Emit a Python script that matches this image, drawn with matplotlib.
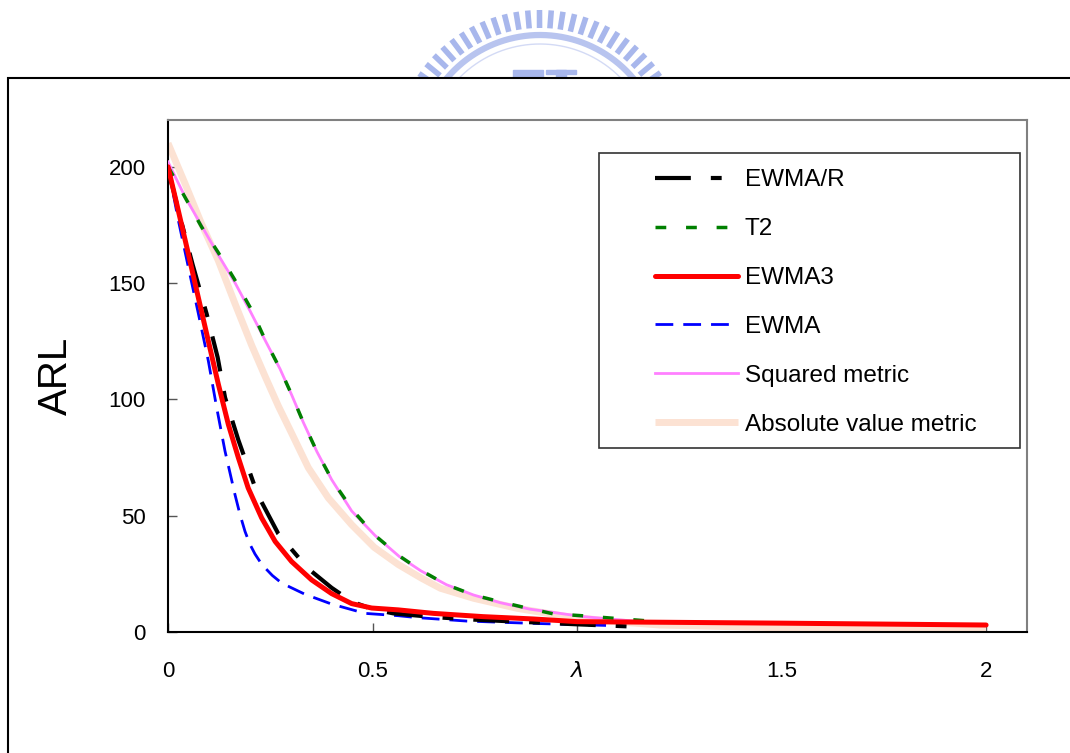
import matplotlib
matplotlib.use("Agg")
import matplotlib.pyplot as plt
from matplotlib.patches import Rectangle
import numpy as np

plt.rcParams['font.family'] = ['Liberation Sans', 'DejaVu Sans']

# ---- data (x = lambda, y = ARL) ----
x_ewma_r = [0, 0.03, 0.06, 0.0946, 0.1214, 0.1394, 0.172, 0.2193, 0.2697, 0.3415, 0.40, 0.45, 0.50, 0.551, 0.65, 0.75, 0.86, 1.0, 1.14]
y_ewma_r = [199, 178, 158, 136.6, 118, 100.8, 82.5, 59, 42.2, 27.4, 19, 13, 9.8, 8.0, 6.4, 5.3, 4.4, 3.3, 2.3]

x_t2 = [0, 0.0457, 0.0823, 0.123, 0.162, 0.203, 0.239, 0.274, 0.301, 0.331, 0.364, 0.402, 0.453, 0.506, 0.567,
        0.616, 0.681, 0.747, 0.812, 0.877, 0.942, 1.011, 1.089, 1.163, 1.2]
y_t2 = [200, 185.5, 174, 163, 151.7, 138.8, 125, 113, 102.5, 90, 77.5, 65, 52, 41.5, 32.5,
        26.7, 20.3, 15.9, 13, 10.3, 7.8, 7.0, 5.9, 4.9, 4.5]

x_ewma3 = [0, 0.0253, 0.0497, 0.074, 0.0986, 0.123, 0.1475, 0.172, 0.196, 0.229, 0.262, 0.302, 0.351, 0.40,
           0.449, 0.498, 0.563, 0.62, 0.649, 0.77, 0.893, 1.0, 1.2, 1.5, 2.0]
y_ewma3 = [199.9, 181, 162.5, 143.8, 125, 106.5, 89.2, 74.9, 61.9, 49, 38.9, 30.3, 22.4, 16.5,
           12.2, 10.3, 9.5, 8.5, 8.0, 6.6, 5.6, 4.45, 4.2, 3.8, 3.0]

x_ewma = [0, 0.0253, 0.0497, 0.074, 0.0986, 0.119, 0.1394, 0.1638, 0.176, 0.1883, 0.20, 0.2127, 0.225, 0.237,
          0.255, 0.278, 0.335, 0.40, 0.482, 0.563, 0.608, 0.73, 0.893, 1.097]
y_ewma = [200, 176.9, 156.8, 137, 116.5, 96.4, 77.7, 59, 50.5, 43.2, 37.8, 33.5, 30.2, 27.6,
          24.3, 21, 16.2, 12, 8.0, 7.0, 6.2, 4.7, 3.7, 2.7]

x_sq = [0, 0.0416, 0.0905, 0.123, 0.164, 0.2005, 0.237, 0.274, 0.302, 0.331, 0.364, 0.40, 0.449, 0.506, 0.565,
        0.618, 0.681, 0.747, 0.812, 0.885, 1.015, 1.138, 1.203]
y_sq = [202, 187, 172, 162, 150, 138, 125.5, 113, 102, 90, 77.5, 65.5, 52, 41.5, 32.5,
        26.3, 20.3, 15.9, 12.6, 9.8, 6.6, 4.7, 4.0]

x_abs = [0, 0.0416, 0.082, 0.123, 0.164, 0.205, 0.237, 0.27, 0.302, 0.343, 0.392, 0.449, 0.504, 0.563, 0.62,
         0.666, 0.747, 0.853, 0.975, 1.097, 1.203, 1.5, 2.0]
y_abs = [210, 192.7, 175.4, 159.6, 141, 123, 110, 97, 85.5, 70.6, 57.6, 46.1, 36.4, 29, 23.1,
         18.8, 14.5, 10.2, 6.6, 4.4, 3.0, 1.8, 1.1]

x_ticks = [0, 0.5, 1, 1.5, 2]
x_tick_labels = ['0', '0.5', r'$\lambda$', '1.5', '2']
y_ticks = [0, 50, 100, 150, 200]

fig = plt.figure(figsize=(10.7, 7.53), dpi=100)

# outer frame of the pasted chart
fig.patches.append(Rectangle((8/1070, -0.05), 1.2, 0.05 + 1 - 78/753, transform=fig.transFigure,
                             fill=False, edgecolor='black', linewidth=1.5))

# faint watermark logo peeking above the frame
deco = fig.add_axes([0, 1 - 77/753, 1, 77/753])
deco.set_xlim(0, 1070)
deco.set_ylim(77, 0)
deco.axis('off')
logo_col = '#a8b7ec'
for th in np.radians(np.arange(-60, 61, 4.6)):
    deco.plot([540 + 129*np.sin(th), 540 + 147*np.sin(th)],
              [157 - 129*np.cos(th), 157 - 147*np.cos(th)], color=logo_col, lw=4.0, solid_capstyle='butt')
arc = np.radians(np.linspace(-62, 62, 200))
deco.plot(540 + 122*np.sin(arc), 157 - 122*np.cos(arc), color='#b8c4ef', lw=4.5)
deco.plot(540 + 113*np.sin(arc), 157 - 113*np.cos(arc), color='#d3daf5', lw=1)
deco.add_patch(Rectangle((513, 70), 30, 8, color=logo_col))
deco.add_patch(Rectangle((546, 70), 30, 4, color=logo_col))
deco.add_patch(Rectangle((556, 70), 10, 8, color=logo_col))

ax = fig.add_axes([168/1070, 1 - 632/753, (1027-168)/1070, (632-120)/753])

ax.plot(x_abs, y_abs, color='#fce2d3', lw=5, solid_capstyle='butt', label='Absolute value metric', zorder=2)
ax.plot(x_sq, y_sq, color='#ff80ff', lw=2, label='Squared metric', zorder=3)
ax.plot(x_t2, y_t2, color='#008000', lw=2.5, dashes=(3.1, 5.7), label='T2', zorder=3)
ax.plot(x_ewma, y_ewma, color='#0000ff', lw=2, dashes=(6.4, 3.6), label='EWMA', zorder=4)
ax.plot(x_ewma_r, y_ewma_r, color='black', lw=3, dashes=(8.6, 4.8, 2.6, 4.8), label='EWMA/R', zorder=4)
ax.plot(x_ewma3, y_ewma3, color='red', lw=3.6, solid_capstyle='round', label='EWMA3', zorder=5)

ax.set_xlim(0, 2.1)
ax.set_ylim(0, 220)
ax.set_xticks(x_ticks)
ax.set_xticklabels(x_tick_labels)
ax.set_yticks(y_ticks)
ax.tick_params(direction='in', length=6.5, width=1, color='#555555', labelsize=16)
ax.tick_params(axis='x', pad=21)
ax.tick_params(axis='y', pad=16)

ax.spines['left'].set_color('black')
ax.spines['bottom'].set_color('black')
ax.spines['top'].set_color('#808080')
ax.spines['right'].set_color('#808080')
for s in ax.spines.values():
    s.set_linewidth(1.5)

fig.text(56/1070, 1 - 376/753, 'ARL', rotation=90, fontsize=29, ha='center', va='center')

# legend: box drawn by hand, entries centred inside it
bx0 = (599 - 168) / 859
by0 = (632 - 448) / 512
bw = (1020 - 599) / 859
bh = (448 - 153) / 512
ax.add_patch(Rectangle((bx0, by0), bw, bh, transform=ax.transAxes, fill=True, facecolor='white',
                       edgecolor='#333333', lw=1.2, zorder=6))
h, l = ax.get_legend_handles_labels()
order = ['EWMA/R', 'T2', 'EWMA3', 'EWMA', 'Squared metric', 'Absolute value metric']
hs = [h[l.index(o)] for o in order]
leg = ax.legend(hs, order, loc='center', bbox_to_anchor=(bx0 + bw/2 + 6/859, by0 + bh/2 - 2/512), frameon=False,
                fontsize=17.5, handlelength=3.42, handletextpad=0.29, labelspacing=1.11)
leg.set_zorder(7)

fig.savefig('out.png', dpi=100)
